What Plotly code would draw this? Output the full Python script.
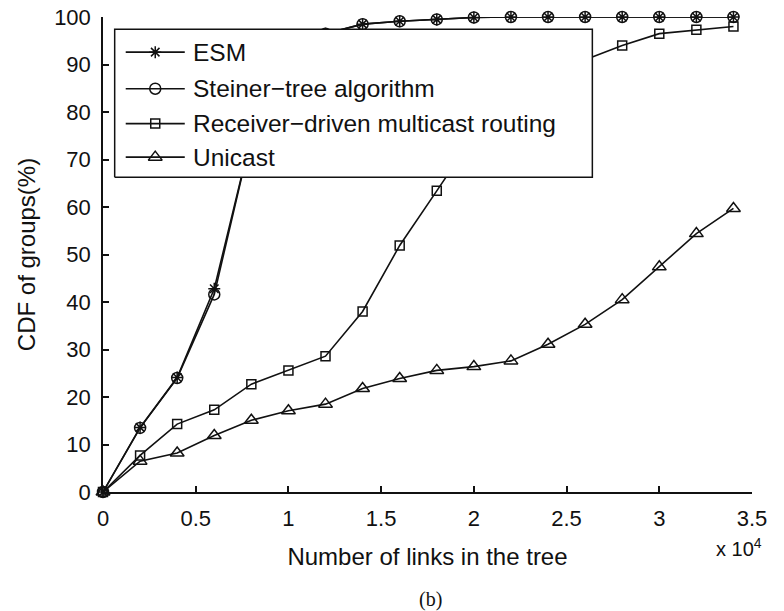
import plotly.graph_objects as go

# Number of links in the multicast tree (x) and CDF of groups in percent (y)
links = [0, 2000, 4000, 6000, 8000, 10000, 12000, 14000, 16000, 18000,
         20000, 22000, 24000, 26000, 28000, 30000, 32000, 34000]

esm = [0, 13.6, 24.1, 42.8, 75.0, 90.0, 96.5, 98.5, 99.1, 99.5,
       99.9, 100, 100, 100, 100, 100, 100, 100]
steiner = [0, 13.5, 24.0, 41.6, 75.0, 90.0, 96.5, 98.5, 99.1, 99.5,
           99.9, 100, 100, 100, 100, 100, 100, 100]
receiver = [0, 7.7, 14.3, 17.3, 22.7, 25.6, 28.6, 38.0, 51.9, 63.4,
            75.0, 83.0, 88.0, 91.0, 94.0, 96.5, 97.3, 98.0]
unicast = [0, 6.5, 8.2, 11.9, 15.1, 17.1, 18.5, 21.8, 23.9, 25.6,
           26.4, 27.6, 31.1, 35.3, 40.5, 47.4, 54.4, 59.7]

series_names = ["ESM", "Steiner\u2212tree algorithm",
                "Receiver\u2212driven multicast routing", "Unicast"]
series_values = [esm, steiner, receiver, unicast]
series_symbols = ["asterisk-open", "circle-open", "square-open", "triangle-up-open"]
series_sizes = [10, 11, 9, 12]

x_ticks = [0, 5000, 10000, 15000, 20000, 25000, 30000, 35000]
x_tick_text = ["0", "0.5", "1", "1.5", "2", "2.5", "3", "3.5"]
y_ticks = [0, 10, 20, 30, 40, 50, 60, 70, 80, 90, 100]

SANS = "Liberation Sans, Arial, sans-serif"
INK = "#111111"

fig = go.Figure()

for name, vals, sym, sz in zip(series_names, series_values, series_symbols, series_sizes):
    fig.add_trace(go.Scatter(
        x=links, y=vals, name=name, mode="lines+markers",
        line=dict(color=INK, width=1.6),
        marker=dict(symbol=sym, size=sz, color=INK, line=dict(color=INK, width=1.5)),
        cliponaxis=False, showlegend=False,
    ))

# Legend box drawn on an overlay axis (0..1 over the plot area) so it covers the curves
box_x0, box_x1, box_y0, box_y1 = 0.018, 0.754, 0.6625, 0.974
fig.add_trace(go.Scatter(
    x=[box_x0, box_x1, box_x1, box_x0, box_x0],
    y=[box_y0, box_y0, box_y1, box_y1, box_y0],
    xaxis="x2", yaxis="y2", mode="lines", fill="toself",
    fillcolor="white", line=dict(color=INK, width=1.5),
    hoverinfo="skip", showlegend=False,
))

row_y = [0.926, 0.849, 0.7756, 0.705]
sample_x0, sample_x1 = 0.035, 0.126
text_x = 0.1363
for name, sym, sz, ry in zip(series_names, series_symbols, series_sizes, row_y):
    fig.add_trace(go.Scatter(
        x=[sample_x0, sample_x1], y=[ry, ry], xaxis="x2", yaxis="y2",
        mode="lines", line=dict(color=INK, width=1.6),
        hoverinfo="skip", showlegend=False,
    ))
    fig.add_trace(go.Scatter(
        x=[(sample_x0 + sample_x1) / 2], y=[ry], xaxis="x2", yaxis="y2",
        mode="markers",
        marker=dict(symbol=sym, size=sz, color=INK, line=dict(color=INK, width=1.5)),
        hoverinfo="skip", showlegend=False,
    ))
    fig.add_annotation(
        x=text_x, y=ry, xref="x2", yref="y2", text=name, showarrow=False,
        xanchor="left", yanchor="middle", font=dict(family=SANS, size=24.5, color=INK),
    )

# Exponent of the x axis scale
fig.add_annotation(
    x=1.018, y=-0.116, xref="paper", yref="paper", text="x 10<sup>4</sup>",
    showarrow=False, xanchor="right", yanchor="middle",
    font=dict(family=SANS, size=20, color=INK),
)
# Sub-figure caption
fig.add_annotation(
    x=0.504, y=-0.226, xref="paper", yref="paper", text="(b)",
    showarrow=False, xanchor="center", yanchor="middle",
    font=dict(family="Liberation Serif, Times New Roman, serif", size=20, color=INK),
)

fig.update_layout(
    width=784, height=611,
    margin=dict(l=103, r=32, t=17, b=119, autoexpand=False),
    paper_bgcolor="white", plot_bgcolor="white",
    font=dict(family=SANS, color=INK),
    xaxis=dict(
        range=[0, 35000], tickvals=x_ticks, ticktext=x_tick_text,
        ticks="inside", ticklen=6, tickwidth=1.5, tickcolor=INK,
        showline=True, linecolor=INK, linewidth=1.5, mirror=False,
        showgrid=False, zeroline=False, ticklabelstandoff=6, automargin=False,
        tickfont=dict(family=SANS, size=22, color=INK),
        title=dict(text="Number of links in the tree", standoff=18,
                   font=dict(family=SANS, size=24, color=INK)),
    ),
    yaxis=dict(
        range=[0, 100], tickvals=y_ticks,
        ticks="inside", ticklen=6, tickwidth=1.5, tickcolor=INK,
        showline=True, linecolor=INK, linewidth=1.5, mirror=False,
        showgrid=False, zeroline=False, ticklabelstandoff=6, automargin=False,
        tickfont=dict(family=SANS, size=22, color=INK),
        title=dict(text="CDF of groups(%)", standoff=12,
                   font=dict(family=SANS, size=24, color=INK)),
    ),
    xaxis2=dict(overlaying="x", anchor="y2", range=[0, 1], visible=False,
                fixedrange=True, automargin=False),
    yaxis2=dict(overlaying="y", anchor="x2", range=[0, 1], visible=False,
                fixedrange=True, automargin=False),
    showlegend=False,
)

fig.write_html("out.html")
